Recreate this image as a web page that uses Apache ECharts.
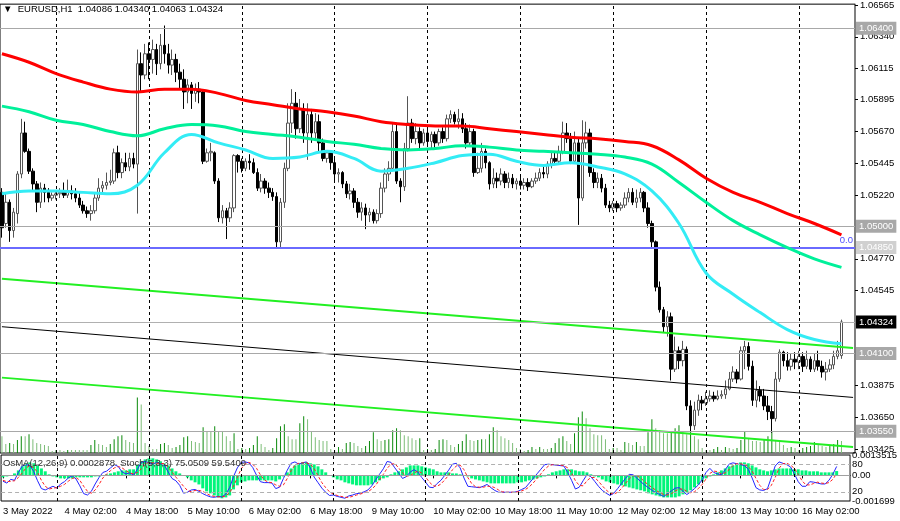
<!DOCTYPE html>
<html><head><meta charset="utf-8">
<script src="https://cdn.jsdelivr.net/npm/echarts@6/dist/echarts.min.js"></script>
<style>html,body{margin:0;padding:0;background:#fff;overflow:hidden}#c{width:900px;height:521px}</style>
</head><body><div id="c"></div>
<script>
// ---------- time axis ----------
const tradingDays = ['3 May','4 May','5 May','6 May','9 May','10 May','11 May','12 May','13 May','16 May'];
const firstHour = 10, lastHour = 11, yearLabel = '2022';
const shiftBars = 3;
// ---------- price data, in pips (0.0001); each row: open, close, low, high ----------
const ohlcPips = [
[10524,10499,10492,10527],[10502,10517,10499,10524],[10517,10497,10489,10519],[10497,10510,10492,10513],[10509,10537,10502,10539],
[10537,10566,10534,10576],[10566,10553,10552,10574],[10553,10539,10537,10555],[10539,10530,10525,10541],[10530,10517,10510,10532],
[10517,10527,10513,10531],[10527,10524,10517,10530],[10524,10520,10517,10527],[10520,10522,10518,10524],[10522,10523,10519,10525],
[10523,10524,10520,10527],[10524,10522,10520,10531],[10522,10525,10520,10533],[10525,10523,10519,10529],[10523,10520,10517,10527],
[10520,10515,10513,10524],[10515,10511,10509,10518],[10511,10509,10506,10514],[10509,10511,10504,10515],[10511,10520,10509,10524],
[10520,10527,10518,10534],[10527,10529,10524,10532],[10529,10531,10526,10538],[10531,10532,10529,10540],[10532,10552,10530,10555],
[10552,10538,10534,10557],[10538,10545,10534,10548],[10545,10542,10539,10552],[10542,10548,10539,10552],[10548,10544,10541,10552],
[10544,10615,10509,10625],[10615,10607,10595,10623],[10607,10622,10604,10629],[10622,10618,10604,10630],[10618,10625,10608,10632],
[10625,10615,10607,10629],[10615,10628,10611,10636],[10628,10622,10615,10642],[10622,10614,10608,10629],[10614,10618,10607,10625],
[10618,10609,10602,10622],[10609,10604,10597,10615],[10604,10595,10583,10611],[10595,10600,10587,10604],[10600,10594,10583,10602],
[10594,10597,10588,10601],[10597,10595,10587,10602],[10595,10546,10544,10597],[10546,10552,10545,10555],[10552,10553,10546,10559],
[10552,10532,10530,10553],[10532,10506,10503,10534],[10506,10511,10502,10515],[10511,10506,10491,10513],[10506,10513,10503,10517],
[10513,10550,10510,10551],[10550,10546,10538,10551],[10546,10541,10538,10548],[10541,10546,10539,10548],[10546,10545,10540,10551],
[10545,10538,10537,10548],[10538,10527,10525,10541],[10527,10532,10524,10537],[10532,10527,10523,10534],[10527,10524,10520,10531],
[10524,10521,10518,10527],[10521,10489,10485,10524],[10489,10517,10485,10520],[10517,10541,10513,10545],[10541,10573,10539,10587],
[10573,10587,10566,10597],[10587,10569,10562,10595],[10569,10583,10566,10590],[10583,10566,10559,10587],[10566,10579,10547,10587],
[10579,10566,10559,10583],[10566,10574,10562,10580],[10574,10559,10552,10579],[10559,10548,10546,10562],[10548,10552,10545,10553],
[10552,10545,10540,10553],[10545,10537,10532,10548],[10537,10538,10531,10541],[10538,10530,10527,10539],[10530,10523,10520,10532],
[10523,10525,10519,10530],[10525,10517,10513,10527],[10517,10510,10506,10520],[10510,10513,10504,10517],[10513,10508,10498,10516],
[10508,10510,10503,10513],[10510,10504,10502,10512],[10504,10509,10502,10512],[10509,10527,10506,10531],[10527,10537,10524,10541],
[10537,10541,10532,10546],[10541,10567,10539,10573],[10567,10532,10530,10572],[10532,10528,10517,10534],[10528,10555,10525,10559],
[10555,10573,10553,10592],[10573,10562,10559,10576],[10562,10567,10558,10573],[10567,10559,10555,10570],[10559,10566,10557,10569],
[10566,10560,10558,10569],[10560,10565,10555,10567],[10565,10559,10554,10567],[10559,10567,10557,10569],[10567,10562,10559,10570],
[10562,10576,10560,10579],[10576,10579,10573,10582],[10579,10574,10572,10581],[10574,10576,10569,10583],[10576,10569,10566,10580],
[10569,10559,10555,10573],[10559,10567,10557,10572],[10567,10538,10535,10569],[10538,10541,10537,10552],[10541,10553,10538,10559],
[10553,10545,10541,10555],[10545,10530,10526,10546],[10530,10534,10527,10541],[10534,10532,10527,10538],[10532,10537,10529,10541],
[10537,10531,10527,10539],[10531,10534,10527,10538],[10534,10530,10527,10537],[10530,10532,10526,10534],[10532,10529,10526,10535],
[10529,10531,10526,10534],[10531,10528,10525,10534],[10528,10532,10527,10534],[10532,10534,10530,10538],[10534,10538,10532,10541],
[10538,10537,10534,10543],[10537,10544,10534,10546],[10544,10548,10541,10552],[10548,10546,10544,10553],[10546,10553,10544,10557],
[10553,10566,10551,10574],[10566,10562,10559,10573],[10562,10546,10544,10566],[10546,10559,10545,10567],[10559,10520,10501,10562],
[10520,10559,10518,10575],[10559,10566,10555,10574],[10566,10538,10535,10569],[10538,10531,10527,10541],[10531,10534,10527,10538],
[10534,10527,10524,10537],[10527,10515,10513,10530],[10515,10513,10510,10518],[10513,10516,10511,10518],[10516,10513,10510,10518],
[10513,10515,10511,10517],[10515,10520,10513,10524],[10520,10524,10517,10527],[10524,10517,10515,10527],[10517,10520,10513,10526],
[10520,10524,10517,10527],[10524,10513,10510,10525],[10513,10502,10499,10517],[10502,10489,10485,10504],[10489,10457,10454,10490],
[10457,10441,10439,10461],[10441,10429,10425,10443],[10429,10436,10422,10440],[10436,10399,10391,10439],[10399,10412,10397,10422],
[10412,10405,10399,10415],[10405,10413,10401,10419],[10413,10373,10370,10415],[10373,10359,10355,10377],[10359,10370,10356,10376],
[10370,10377,10366,10381],[10377,10375,10370,10380],[10375,10378,10373,10383],[10378,10380,10376,10384],[10380,10378,10376,10383],
[10378,10380,10377,10384],[10380,10381,10378,10384],[10381,10385,10378,10391],[10385,10392,10384,10397],[10392,10397,10390,10401],
[10397,10392,10389,10399],[10392,10412,10391,10415],[10412,10415,10399,10419],[10415,10401,10398,10418],[10401,10377,10373,10405],
[10377,10384,10372,10391],[10384,10380,10376,10387],[10380,10373,10370,10385],[10373,10369,10363,10380],[10369,10364,10354,10373],
[10364,10392,10362,10397],[10392,10411,10390,10413],[10411,10405,10401,10412],[10405,10401,10398,10411],[10401,10406,10398,10410],
[10406,10404,10399,10411],[10404,10408,10399,10412],[10408,10401,10397,10411],[10401,10406,10399,10412],[10406,10399,10397,10408],
[10399,10405,10397,10410],[10405,10401,10398,10412],[10401,10397,10393,10405],[10397,10399,10391,10404],[10399,10402,10397,10406],
[10402,10408,10399,10412],[10408,10412,10406,10419],[10408.6,10432.4,10406.3,10434.0]
];
// tick volume (hundreds)
const tickVolume = [17,9,10,9,13,17,17,19,14,10,9,8,7,2,3,3,2,3,3,3,3,3,3,8,13,9,8,6,9,14,17,18,13,11,10,56,49,10,7,4,4,9,10,8,5,6,8,16,17,12,11,10,26,22,22,27,22,22,17,12,20,4,5,4,5,8,17,9,6,3,5,15,27,29,17,14,14,30,37,34,22,16,13,12,12,4,3,6,4,10,11,10,7,5,7,12,21,14,12,13,14,23,25,23,18,17,15,13,15,3,4,3,4,13,14,13,8,6,9,12,19,13,12,13,14,14,19,26,23,17,15,13,10,5,4,2,3,6,4,6,4,4,5,10,15,17,12,9,20,36,42,35,25,19,18,18,14,4,5,5,3,11,10,8,11,7,7,21,34,25,23,20,20,22,25,28,22,19,22,17,14,5,3,3,4,6,3,6,5,4,5,13,22,15,12,12,11,13,17,22,12,11,8,5,6,5,3,5,6,7,11,9,7,6,7,9,13,12];
// moving averages, read every maStep bars (pips)
const maStep = 7;
const ma200 = [10622,10616,10608,10602,10597,10595,10597,10597,10594,10589,10586,10583,10581,10578,10574,10572,10571,10571,10569,10567,10565,10563,10562,10560,10557,10547,10534,10524,10517,10509,10502,10494];
const ma100 = [10585,10581,10575,10572,10567,10564,10569,10572,10571,10567,10565,10563,10560,10558,10555,10554,10555,10557,10556,10554,10553,10552,10551,10549,10544,10531,10517,10504,10494,10485,10477,10471];
const ma50  = [10523,10525,10525,10524,10523,10529,10552,10565,10559,10554,10548,10549,10553,10548,10539,10541,10545,10550,10551,10546,10543,10545,10542,10537,10525,10502,10467,10452,10439,10427,10420,10417];
// channel lines: [start price, end price]
const channelTop = [1.0463, 1.0414];
const channelMid = [1.0429, 1.0379];
const channelBot = [1.0393, 1.0344];
// horizontal levels
const levelLines = [1.06400, 1.05000, 1.04100, 1.03550];
const fiboLevel = 1.04850;
const lastPrice = 1.04324;
const priceTicks = [1.06565,1.06340,1.06115,1.05895,1.05670,1.05445,1.05220,1.04770,1.04545,1.03875,1.03650,1.03425];
const priceMin = 1.03397, priceMax = 1.06571;
// OsMA (points, 0.00001)
const osmaPoints = [-13,-7,0,13,33,60,80,86,80,66,46,27,7,-7,-13,-20,-20,-20,-20,-13,-13,-13,-13,-13,-7,-7,0,7,13,20,27,33,33,40,40,73,93,106,113,113,106,93,80,66,46,27,13,0,-13,-33,-46,-60,-86,-106,-119,-133,-146,-152,-146,-133,-93,-66,-46,-40,-33,-33,-33,-33,-33,-33,-33,-40,-27,-7,20,46,66,80,86,86,80,73,60,40,20,0,-13,-27,-33,-46,-53,-60,-66,-66,-66,-66,-60,-46,-33,-20,-13,7,20,27,40,53,66,66,66,60,53,46,40,27,20,20,20,13,13,7,0,-7,-20,-27,-33,-40,-46,-53,-53,-53,-53,-53,-53,-53,-46,-46,-40,-33,-27,-20,-13,-7,7,20,27,33,40,40,40,33,27,27,20,7,-7,-13,-27,-40,-46,-53,-60,-66,-73,-80,-86,-93,-99,-106,-119,-126,-133,-139,-146,-146,-146,-146,-139,-126,-113,-99,-80,-60,-40,-20,-7,7,20,33,46,60,66,73,86,86,80,66,53,40,33,27,33,40,46,46,46,46,40,40,33,33,27,27,27,20,20,20,20,28.78];
const osmaMin = -0.001699, osmaMax = 0.0013515;
// Stochastic (5,3,3)
const stochMain = [43,39,47,45,62,76,79,77,64,44,27,24,28,32,28,37,42,50,55,48,33,16,13,21,37,51,62,65,72,79,75,63,59,61,56,69,84,86,83,80,84,81,78,63,49,44,34,17,19,24,25,21,16,12,9,8,10,9,15,29,53,72,84,85,83,73,56,42,40,40,39,27,30,49,67,82,85,80,83,85,72,52,40,28,19,12,13,10,8,6,11,13,16,17,20,24,33,46,58,70,86,84,72,61,49,53,63,68,63,51,41,30,29,38,45,56,67,80,82,72,50,32,31,30,29,32,36,29,23,19,19,19,19,19,21,25,29,39,49,59,69,79,80,79,78,77,76,62,45,26,30,44,57,53,43,32,23,17,12,17,27,38,49,58,57,50,42,35,29,23,18,14,10,16,22,28,29,21,14,20,27,35,46,62,71,62,59,57,68,80,83,81,79,77,69,50,29,24,23,27,51,76,85,82,79,74,59,42,32,32,42,41,39,37,37,45,58,75.0509];
const stochSignal = [45,42,43,44,51,61,72,77,73,62,45,32,26,28,29,32,36,43,49,51,45,32,21,17,24,36,50,59,66,72,75,72,66,61,59,62,70,80,84,83,82,82,81,74,63,52,42,32,23,20,23,23,21,16,12,10,9,9,11,18,32,51,70,80,84,80,71,57,46,41,40,35,32,35,49,66,78,82,83,83,80,70,55,40,29,20,15,12,10,8,8,10,13,15,18,20,26,34,46,58,71,80,81,72,61,54,55,61,65,61,52,41,33,32,37,46,56,68,76,78,68,51,38,31,30,30,32,32,29,24,20,19,19,19,20,22,25,31,39,49,59,69,76,79,79,78,77,72,61,44,34,33,44,51,51,43,33,24,17,15,19,27,38,48,55,55,50,42,35,29,23,18,14,13,16,22,26,26,21,18,20,27,36,48,60,65,64,59,61,68,77,81,81,79,75,65,49,34,25,25,34,51,71,81,82,78,71,58,44,35,35,38,41,39,38,40,47,59.5409];

// ---------- build ----------
const categories = [];
tradingDays.forEach((d, k) => {
  const h0 = k === 0 ? firstHour : 0, h1 = k === tradingDays.length - 1 ? lastHour : 23;
  for (let h = h0; h <= h1; h++) categories.push(d + ' ' + String(h).padStart(2, '0') + ':00');
});
for (let s = 0; s < shiftBars; s++) categories.push('pad' + s);
const N = categories.length;
const midnights = categories.filter((c, i) => i > 0 && c.endsWith(' 00:00'));
const candleData = ohlcPips.map(r => r.map(v => +(v / 10000).toFixed(5)));
const maSeries = arr => categories.map((_, i) => (i % maStep === 0 && arr[i / maStep] !== undefined) ? arr[i / maStep] / 10000 : null);
const volData = tickVolume.map((v, i) => ({value: v, itemStyle: {color: (i > 0 && v > tickVolume[i - 1]) ? '#0b8a0b' : '#7dbd78'}}));
const osmaData = osmaPoints.map(v => v / 100000);
const FONT = "'Liberation Sans',Arial,sans-serif";
const FS = 9.5;
const lastCat = categories[N - 1];

const sepStyle = {color: '#000', type: [3, 3], width: 1};
const sepLines = midnights.map(c => ({xAxis: c, lineStyle: sepStyle, label: {show: false}}));
const boxLabel = (text, bg) => ({show: true, position: 'end', formatter: text, color: '#fff', backgroundColor: bg,
  padding: [2, 3, 1, 3], fontSize: FS, fontFamily: FONT, distance: 1});
const levelItems = levelLines.map(v => ({yAxis: v, lineStyle: {color: '#a8a8a8', type: 'solid', width: 1}, label: boxLabel(v.toFixed(5), '#a8a8a8')}));
levelItems.push({yAxis: fiboLevel, lineStyle: {color: '#6a6aff', type: 'solid', width: 2}, label: boxLabel(fiboLevel.toFixed(5), '#d0d0d0')});
levelItems.push({yAxis: fiboLevel, lineStyle: {color: 'rgba(0,0,0,0)', type: 'solid', width: 1},
  label: {show: true, position: 'insideEndTop', formatter: '0.0', color: '#4b4bff', fontSize: FS, fontFamily: FONT, distance: 2}});
levelItems.push({yAxis: lastPrice, lineStyle: {color: '#b0b0b0', type: 'solid', width: 1}, label: boxLabel(lastPrice.toFixed(5), '#000')});

const chart = echarts.init(document.getElementById('c'), null, {renderer: 'canvas'});
chart.setOption({
  animation: false,
  backgroundColor: '#fff',
  textStyle: {fontFamily: FONT},
  grid: [
    {left: 0, right: 45, top: 0, height: 453, show: true, borderColor: '#000', borderWidth: 1, backgroundColor: 'transparent'},
    {left: 0, right: 45, top: 455, height: 46, show: true, borderColor: '#000', borderWidth: 1, backgroundColor: 'transparent'}
  ],
  graphic: [
    {type: 'text', left: 3, top: 4, z: 100, style: {text: '▼  EURUSD,H1  1.04086 1.04340 1.04063 1.04324', font: FS + 'px ' + FONT, fill: '#000'}},
    {type: 'text', left: 3, top: 458, z: 100, style: {text: 'OsMA(12,26,9) 0.0002878  Stoch(5,3,3) 75.0509 59.5409', font: FS + 'px ' + FONT, fill: '#333'}}
  ],
  xAxis: [
    {type: 'category', gridIndex: 0, data: categories, boundaryGap: true, axisLine: {show: false}, axisTick: {show: false}, axisLabel: {show: false}, splitLine: {show: false}},
    {type: 'category', gridIndex: 1, data: categories, boundaryGap: true,
     axisLine: {show: true, lineStyle: {color: '#000'}},
     axisTick: {show: true, interval: 15, alignWithLabel: true, length: 3, lineStyle: {color: '#000'}},
     axisLabel: {show: true, interval: 15, align: 'left', margin: 5, color: '#000', fontSize: FS, fontFamily: FONT,
       formatter: (v, i) => i === 0 ? v.split(' ').slice(0, 2).join(' ') + ' ' + yearLabel : (v.startsWith('pad') ? '' : v)},
     splitLine: {show: false}}
  ],
  yAxis: [
    {type: 'value', gridIndex: 0, position: 'right', min: priceMin, max: priceMax, scale: true,
     axisLine: {show: true, lineStyle: {color: '#808080'}},
     axisTick: {show: true, length: 3, customValues: priceTicks, lineStyle: {color: '#000'}},
     axisLabel: {show: true, customValues: priceTicks, formatter: v => v.toFixed(5), color: '#000', fontSize: FS, fontFamily: FONT, margin: 5},
     splitLine: {show: false}},
    {type: 'value', gridIndex: 0, min: 0, max: 453, show: false},
    {type: 'value', gridIndex: 1, position: 'right', min: osmaMin, max: osmaMax,
     axisLine: {show: true, lineStyle: {color: '#808080'}},
     axisTick: {show: false},
     axisLabel: {show: true, customValues: [osmaMin, 0, osmaMax], formatter: v => v === 0 ? '0.00' : String(v), color: '#000', fontSize: FS, fontFamily: FONT, margin: 2},
     splitLine: {show: false}},
    {type: 'value', gridIndex: 1, position: 'right', min: 0, max: 100,
     axisLine: {show: false}, axisTick: {show: false},
     axisLabel: {show: true, customValues: [20, 80], color: '#000', fontSize: FS, fontFamily: FONT, margin: 2},
     splitLine: {show: false}}
  ],
  series: [
    {type: 'bar', name: 'volume', xAxisIndex: 0, yAxisIndex: 1, data: volData, barWidth: 1, z: 1, silent: true},
    {type: 'candlestick', name: 'EURUSD', xAxisIndex: 0, yAxisIndex: 0, data: candleData, barWidth: 3, z: 3,
     itemStyle: {color: '#ffffff', color0: '#000000', borderColor: '#555555', borderColor0: '#000000', borderWidth: 1}},
    {type: 'line', name: 'ma200', data: maSeries(ma200), connectNulls: true, smooth: 0.4, showSymbol: false, lineStyle: {color: '#ff0000', width: 3}, z: 5},
    {type: 'line', name: 'ma100', data: maSeries(ma100), connectNulls: true, smooth: 0.4, showSymbol: false, lineStyle: {color: '#00f09a', width: 3}, z: 5},
    {type: 'line', name: 'ma50', data: maSeries(ma50), connectNulls: true, smooth: 0.4, showSymbol: false, lineStyle: {color: '#33ecf5', width: 3}, z: 5},
    {type: 'line', name: 'chTop', data: [[categories[0], channelTop[0]], [lastCat, channelTop[1]]], showSymbol: false, lineStyle: {color: '#22f022', width: 2}, z: 4},
    {type: 'line', name: 'chMid', data: [[categories[0], channelMid[0]], [lastCat, channelMid[1]]], showSymbol: false, lineStyle: {color: '#000', width: 1}, z: 4,
     markLine: {silent: true, symbol: 'none', animation: false, precision: 5, data: sepLines.concat(levelItems)}},
    {type: 'line', name: 'chBot', data: [[categories[0], channelBot[0]], [lastCat, channelBot[1]]], showSymbol: false, lineStyle: {color: '#22f022', width: 2}, z: 4},
    {type: 'bar', name: 'OsMA', xAxisIndex: 1, yAxisIndex: 2, data: osmaData, barWidth: 3, itemStyle: {color: '#00f57a'}, z: 2,
     markLine: {silent: true, symbol: 'none', animation: false, precision: 7, label: {show: false},
       data: [{yAxis: 0, lineStyle: {color: '#a0a0a0', type: 'solid', width: 1}}].concat(sepLines)}},
    {type: 'line', name: 'stochMain', xAxisIndex: 1, yAxisIndex: 3, data: stochMain, showSymbol: false, lineStyle: {color: '#2424ff', width: 1}, z: 4,
     markLine: {silent: true, symbol: 'none', animation: false, label: {show: false},
       data: [{yAxis: 80}, {yAxis: 20}], lineStyle: {color: '#b0b0b0', type: [4, 3], width: 1}}},
    {type: 'line', name: 'stochSignal', xAxisIndex: 1, yAxisIndex: 3, data: stochSignal, showSymbol: false, lineStyle: {color: '#ff2020', width: 1, type: [3, 2]}, z: 4}
  ]
});
</script></body></html>
